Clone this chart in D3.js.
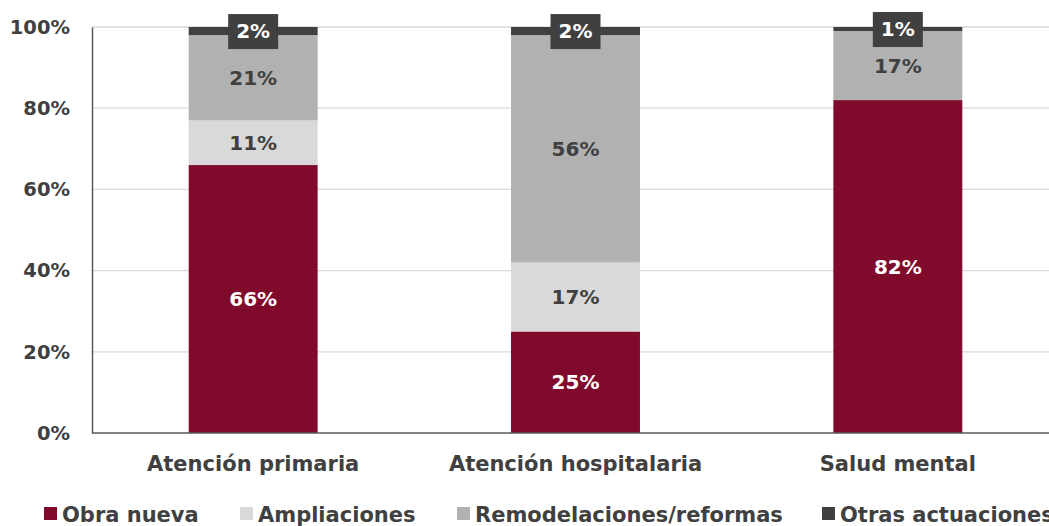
<!DOCTYPE html>
<html>
<head>
<meta charset="utf-8">
<script src="https://cdn.jsdelivr.net/npm/d3@7"></script>
<style>
  html, body { margin: 0; padding: 0; background: #fff; }
  svg { display: block; font-family: "DejaVu Sans", sans-serif; font-weight: bold; }
</style>
</head>
<body>
<svg id="chart" width="1049" height="526"></svg>
<script>
// Categories and stacked series (percent of each category)
const categories = ["Atención primaria", "Atención hospitalaria", "Salud mental"];
const seriesNames = ["Obra nueva", "Ampliaciones", "Remodelaciones/reformas", "Otras actuaciones"];
const obraNueva = [66, 25, 82];
const ampliaciones = [11, 17, 0];
const remodelaciones = [21, 56, 17];
const otras = [2, 2, 1];
const yTicks = [0, 20, 40, 60, 80, 100];

const colors = ["#7F0A2B", "#D9D9D9", "#B1B1B1", "#404040"];
const labelColors = ["#FFFFFF", "#404040", "#404040", "#FFFFFF"];

const seriesValues = [obraNueva, ampliaciones, remodelaciones, otras];
const rows = categories.map((c, i) => {
  const r = { cat: c };
  seriesNames.forEach((s, j) => r[s] = seriesValues[j][i]);
  return r;
});

const svg = d3.select("#chart");
const margin = { left: 92, right: -10, top: 27, bottom: 93 };
const W = 1049, H = 526;

const x = d3.scaleBand()
  .domain(categories)
  .range([margin.left, W - margin.right])
  .paddingInner(0.6)
  .paddingOuter(0.3);

const y = d3.scaleLinear()
  .domain([0, 100])
  .range([H - margin.bottom, margin.top]);

// Gridlines
svg.append("g")
  .selectAll("line")
  .data(yTicks.filter(t => t > 0))
  .join("line")
  .attr("x1", margin.left)
  .attr("x2", W)
  .attr("y1", d => y(d))
  .attr("y2", d => y(d))
  .attr("stroke", "#D9D9D9")
  .attr("stroke-width", 1.3);

// Stacked bars
const stack = d3.stack().keys(seriesNames);
const stacked = stack(rows);

const layers = svg.append("g")
  .selectAll("g")
  .data(stacked)
  .join("g")
  .attr("fill", (d, i) => colors[i]);

layers.selectAll("rect")
  .data(d => d.filter(p => p[1] - p[0] > 0))
  .join("rect")
  .attr("x", d => x(d.data.cat))
  .attr("width", x.bandwidth())
  .attr("y", d => y(d[1]))
  .attr("height", d => y(d[0]) - y(d[1]));

// Y axis
const yAxis = d3.axisLeft(y)
  .tickValues(yTicks)
  .tickFormat(d => d + "%")
  .tickSize(0)
  .tickPadding(22);

const gy = svg.append("g")
  .attr("transform", `translate(${margin.left},0)`)
  .call(yAxis);
gy.select(".domain").attr("stroke", "#595959").attr("stroke-width", 1.5);
gy.selectAll("text")
  .attr("fill", "#404040")
  .style("font-size", "19.5px")
  .style("font-weight", "bold")
  .style("font-family", "'DejaVu Sans', sans-serif");

// X axis
const xAxis = d3.axisBottom(x).tickSize(0).tickPadding(23);
const gx = svg.append("g")
  .attr("transform", `translate(0,${y(0)})`)
  .call(xAxis);
gx.select(".domain").attr("stroke", "#595959").attr("stroke-width", 1.5)
  .attr("d", `M${margin.left},0H${W}`);
gx.selectAll("text")
  .attr("fill", "#404040")
  .style("font-size", "21px")
  .style("font-weight", "bold")
  .style("font-family", "'DejaVu Sans', sans-serif");

// Value labels
stacked.forEach((layer, i) => {
  layer.forEach(p => {
    const v = p[1] - p[0];
    if (v <= 0) return;
    const cx = x(p.data.cat) + x.bandwidth() / 2;
    const cy = i === 3 ? (y(p[0]) + y(p[1])) / 2 : (y(p[0]) + y(p[1])) / 2;
    const label = v + "%";
    if (i === 3) {
      svg.append("rect")
        .attr("x", cx - 25)
        .attr("y", cy - 17)
        .attr("width", 50)
        .attr("height", 35)
        .attr("fill", colors[3]);
    }
    svg.append("text")
      .attr("x", cx)
      .attr("y", cy)
      .attr("dy", "0.36em")
      .attr("text-anchor", "middle")
      .attr("fill", labelColors[i])
      .style("font-size", "20px")
      .text(label);
  });
});

// Legend
const legendX = [44, 240, 457, 822];
const legend = svg.append("g");
seriesNames.forEach((s, i) => {
  const g = legend.append("g").attr("transform", `translate(${legendX[i]},514)`);
  g.append("rect").attr("x", 0).attr("y", -7).attr("width", 13).attr("height", 13).attr("fill", colors[i]);
  g.append("text").attr("x", 18).attr("y", 0).attr("dy", "0.36em")
    .attr("fill", "#404040").style("font-size", "21px").text(s);
});
</script>
</body>
</html>
